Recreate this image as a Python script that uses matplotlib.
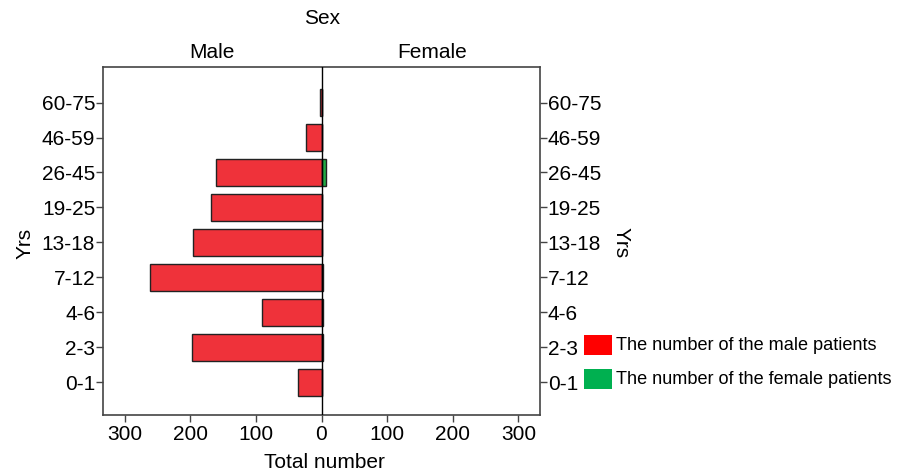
import matplotlib
matplotlib.use("Agg")
import matplotlib.pyplot as plt
import numpy as np
from matplotlib.patches import Rectangle

plt.rcParams['font.family'] = ['Liberation Sans', 'DejaVu Sans']

age_groups = ["0-1", "2-3", "4-6", "7-12", "13-18", "19-25", "26-45", "46-59", "60-75"]
male_counts = [36, 197, 90, 261, 195, 169, 160, 23, 2]
female_counts = [0, 2, 2, 2, 1, 1, 7, 0, 0]
x_ticks = [-300, -200, -100, 0, 100, 200, 300]
x_ticklabels = ["300", "200", "100", "0", "100", "200", "300"]

FS = 15
fig = plt.figure(figsize=(9.03, 4.75), dpi=100)
ax = fig.add_axes([103.5/903, 1 - 415.3/475, 436/903, 348/475])

y = np.arange(len(age_groups))
ax.barh(y, [-v for v in male_counts], height=0.77, color="#EF323A",
        edgecolor="#222222", linewidth=1.0, zorder=2)
ax.barh(y, female_counts, height=0.77, color="#22AA44",
        edgecolor="#222222", linewidth=1.0, zorder=2)
ax.axvline(0, color="black", linewidth=1.0, zorder=3)

ax.set_xlim(-332, 332)
ax.set_ylim(-0.95, 9.01)
ax.set_xticks(x_ticks)
ax.set_xticklabels(x_ticklabels, fontsize=FS)
ax.set_yticks(y)
ax.set_yticklabels(age_groups, fontsize=FS)
ax.tick_params(axis='y', direction='out', length=5, width=1, color="#444444", pad=1)
ax.tick_params(axis='x', direction='out', length=5, width=1, color="#444444", pad=2)
for s in ax.spines.values():
    s.set_color("#444444")
    s.set_linewidth(1.2)

ax2 = ax.twinx()
ax2.set_ylim(ax.get_ylim())
ax2.set_yticks(y)
ax2.set_yticklabels(age_groups, fontsize=FS)
ax2.tick_params(axis='y', direction='out', length=5, width=1, color="#444444", pad=1)
for s in ax2.spines.values():
    s.set_visible(False)

fig.text(324/903, 1 - 463/475, "Total number", ha="center", va="center", fontsize=FS)
fig.text(25/903, 1 - 243/475, "Yrs", ha="center", va="center", fontsize=FS, rotation=90)
fig.text(621/903, 1 - 243/475, "Yrs", ha="center", va="center", fontsize=FS, rotation=-90)
fig.text(322/903, 1 - 18/475, "Sex", ha="center", va="center", fontsize=FS)
fig.text(212/903, 1 - 52/475, "Male", ha="center", va="center", fontsize=FS)
fig.text(432/903, 1 - 52/475, "Female", ha="center", va="center", fontsize=FS)

legend_labels = ["The number of the male patients", "The number of the female patients"]
legend_colors = ["#FF0000", "#00B050"]
legend_y = [345, 379]
for lab, col, yy in zip(legend_labels, legend_colors, legend_y):
    fig.patches.append(Rectangle((584/903, 1 - (yy + 10)/475), 28/903, 20/475,
                                 transform=fig.transFigure, facecolor=col,
                                 edgecolor="none", figure=fig))
    fig.text(616/903, 1 - yy/475, lab, ha="left", va="center", fontsize=13.1)

fig.savefig("out.png", dpi=100)
